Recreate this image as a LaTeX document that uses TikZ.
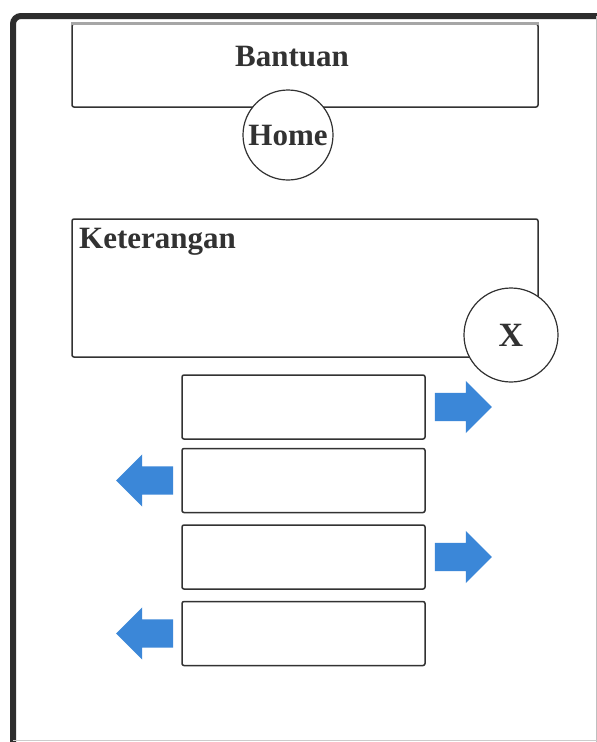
\documentclass[tikz,border=0pt]{standalone}
\usepackage{fontspec}
\setmainfont{Liberation Serif}
\usepackage{xcolor}
\usepackage{tikz}
\usetikzlibrary{shapes,arrows,positioning,calc,arrows.meta}

\definecolor{framegray}{RGB}{45,45,45}
\definecolor{linegray}{RGB}{50,50,50}
\definecolor{arrowblue}{RGB}{59,135,216}

\tikzset{
    panel/.style={draw=linegray, line width=1.5pt, rounded corners=2pt, fill=white},
    rowbox/.style={panel, minimum width=243pt, minimum height=64pt},
    roundbtn/.style={circle, draw=linegray, line width=1.2pt, fill=white, inner sep=0pt,
        font=\bfseries\fontsize{31}{34}\selectfont, text=linegray},
    caption/.style={font=\bfseries\fontsize{31}{34}\selectfont, text=linegray, inner sep=0pt},
    rarrow/.style={single arrow, fill=arrowblue, draw=none, inner sep=0pt,
        text height=28pt, text depth=0pt, minimum height=57pt,
        single arrow head extend=12pt},
    larrow/.style={rarrow, shape border rotate=180}
}

\begin{document}
\begin{tikzpicture}[x=1pt, y=-1pt]
    \useasboundingbox (0,0) rectangle (597,742);
    \fill[white] (0,0) rectangle (597,742);

    % window frame
    \draw[framegray, line width=6pt, rounded corners=8pt] (13,742) |- (597,16);
    \draw[black!25, line width=1pt] (596,16) -- (596,742);
    \draw[black!20, line width=1pt] (13,740.5) -- (597,740.5);

    % header
    \node [panel, minimum width=466pt, minimum height=83pt] (header) at (305,65.5) {};
    \draw[black!35, line width=3pt] (header.north west) -- (header.north east);
    \node [caption] (title) at (292,57) {Bantuan};
    \node [roundbtn, minimum size=90pt] (home) at (288,135) {Home};

    % info panel
    \node [panel, minimum width=466pt, minimum height=138pt] (info) at (305,288) {};
    \node [caption, anchor=base west] (infotext) at (79,248) {Keterangan};
    \node [roundbtn, minimum size=94pt, font=\bfseries\fontsize{34}{36}\selectfont] (close) at (511,335) {X};

    % rows
    \node [rowbox] (row1) at (303.5,407) {};
    \node [rowbox, below=8pt of row1] (row2) {};
    \node [rowbox, below=11pt of row2] (row3) {};
    \node [rowbox, below=11pt of row3] (row4) {};

    \node [rarrow, right=9pt of row1] (next1) {};
    \node [larrow, left=8pt of row2] (back1) {};
    \node [rarrow, right=9pt of row3] (next2) {};
    \node [larrow, left=8pt of row4] (back2) {};
\end{tikzpicture}
\end{document}
